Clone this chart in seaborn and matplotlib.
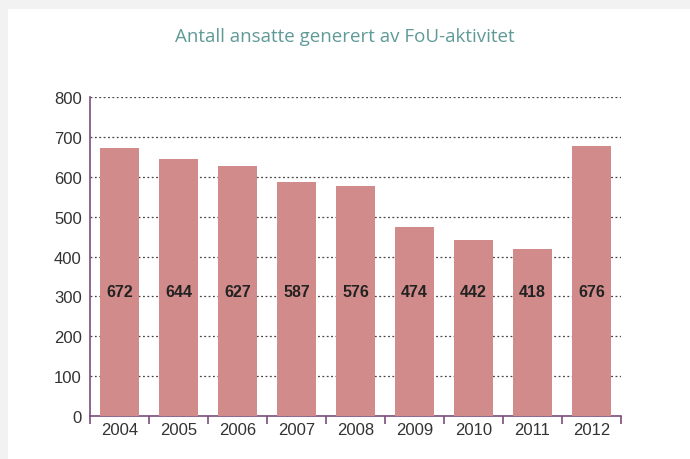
import pandas as pd
import seaborn as sns
import matplotlib.pyplot as plt
from matplotlib.patches import Rectangle

# Data
years = ['2004', '2005', '2006', '2007', '2008', '2009', '2010', '2011', '2012']
employees = [672, 644, 627, 587, 576, 474, 442, 418, 676]

df = pd.DataFrame({'year': years, 'employees': employees})

sns.set_theme(style='white')
plt.rcParams['font.family'] = ['Liberation Sans', 'DejaVu Sans']

fig = plt.figure(figsize=(6.9, 4.6), dpi=100)
fig.patch.set_facecolor('#f2f2f2')
# white card behind everything
fig.patches.append(Rectangle((8 / 690, 0), 1, 1 - 10 / 460, transform=fig.transFigure,
                             facecolor='white', edgecolor='none', zorder=-10))

ax = fig.add_axes([90 / 690, 1 - 417 / 460, 531 / 690, 319 / 460])
ax.set_facecolor('none')

sns.barplot(data=df, x='year', y='employees', color='#d18b8a', width=0.65,
            saturation=1, linewidth=0, ax=ax, zorder=3)

for i, v in enumerate(employees):
    ax.text(i, 313, str(v), ha='center', va='center', fontsize=11.5,
            fontweight='bold', color='#222222', zorder=4)

ax.set_ylim(0, 800)
ax.set_xlim(-0.5, len(years) - 0.5)
ax.set_yticks(range(0, 801, 100))
ax.set_xlabel('')
ax.set_ylabel('')

ax.yaxis.grid(True, linestyle=(0, (1.5, 2)), color='#444444', linewidth=0.9, zorder=0)
ax.set_axisbelow(True)

axis_color = '#7b4d7b'
for side in ['top', 'right']:
    ax.spines[side].set_visible(False)
for side in ['left', 'bottom']:
    ax.spines[side].set_color(axis_color)
    ax.spines[side].set_linewidth(1.2)

ax.tick_params(axis='y', length=0, labelsize=12, labelcolor='#333333', pad=6)
ax.tick_params(axis='x', which='major', length=0, labelsize=12, labelcolor='#333333', pad=4)
ax.set_xticks([i - 0.5 for i in range(len(years) + 1)], minor=True)
ax.tick_params(axis='x', which='minor', bottom=True, length=6, width=1.2,
               color=axis_color, direction='out')

fig.text(0.5, 1 - 37 / 460, 'Antall ansatte generert av FoU-aktivitet', ha='center',
         va='center', fontsize=13.5, color='#5f9a98', family=['Open Sans', 'DejaVu Sans'])

fig.savefig('out.png', dpi=100, facecolor=fig.get_facecolor())
